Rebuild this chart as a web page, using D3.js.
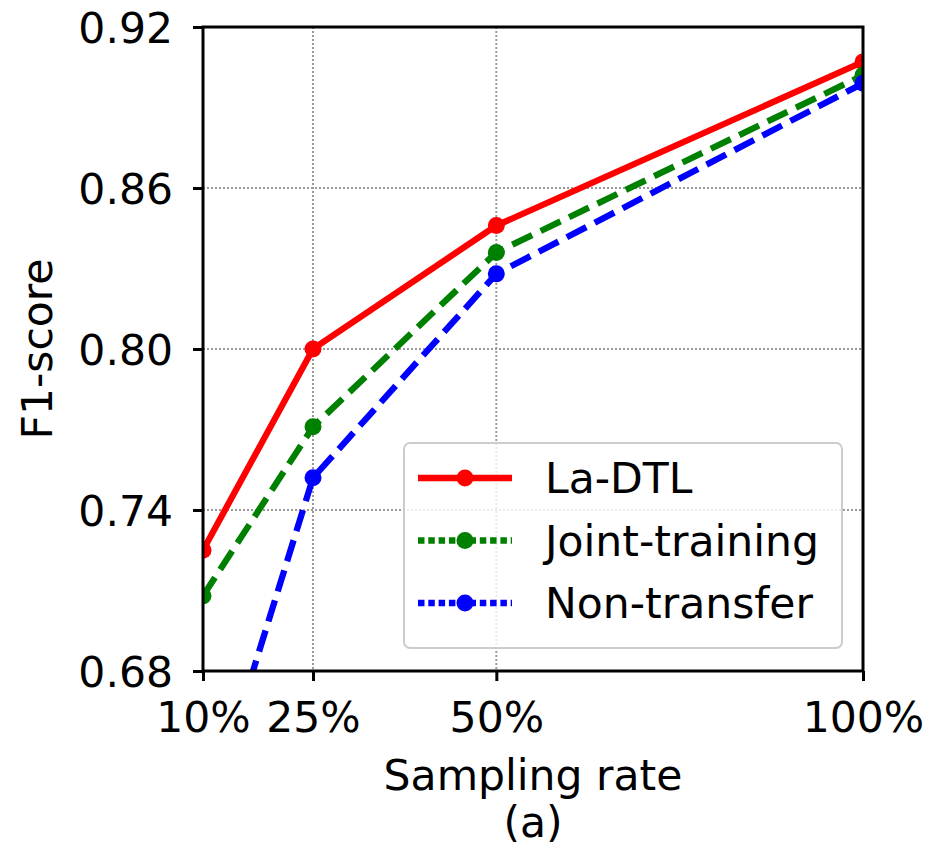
<!DOCTYPE html>
<html>
<head>
<meta charset="utf-8">
<script src="https://cdn.jsdelivr.net/npm/d3@7"></script>
<style>
  body { margin: 0; background: #fff; }
  text { font-family: 'DejaVu Sans', sans-serif; fill: #000; }
</style>
</head>
<body>
<svg id="chart" width="930" height="848"></svg>
<script>
// values
let rates = [10, 25, 50, 100]
let rateLabels = ['10%', '25%', '50%', '100%']
let yTicks = [0.68, 0.74, 0.80, 0.86, 0.92]
let laDTL = [0.725, 0.800, 0.846, 0.907]
let jointTraining = [0.708, 0.771, 0.836, 0.902]
let nonTransfer = [0.620, 0.752, 0.828, 0.899]
let seriesNames = ['La-DTL', 'Joint-training', 'Non-transfer']

let margin = {left: 203, top: 27, right: 930 - 863, bottom: 848 - 671}
let width = 930 - margin.left - margin.right
let height = 848 - margin.top - margin.bottom
let fontSize = 42.5

let series = [
  {name: seriesNames[0], values: laDTL, color: '#ff0000', dash: null, legendDash: null},
  {name: seriesNames[1], values: jointTraining, color: '#008000', dash: '22,9.5', legendDash: '6.5,3.8'},
  {name: seriesNames[2], values: nonTransfer, color: '#0000ff', dash: '22,9.5', legendDash: '6.5,3.8'}
]

let x = d3.scaleLinear().domain([10, 100]).range([0, width])
let y = d3.scaleLinear().domain([0.68, 0.92]).range([height, 0])

let svg = d3.select('#chart')
let g = svg.append('g').attr('transform', 'translate(' + margin.left + ',' + margin.top + ')')

svg.append('defs').append('clipPath').attr('id', 'plotClip')
  .append('rect').attr('width', width).attr('height', height)

// grid
g.append('g').selectAll('line.gx').data(rates).enter().append('line')
  .attr('x1', d => x(d)).attr('x2', d => x(d)).attr('y1', 0).attr('y2', height)
  .attr('stroke', '#999').attr('stroke-width', 2).attr('stroke-dasharray', '2,2')
g.append('g').selectAll('line.gy').data(yTicks).enter().append('line')
  .attr('x1', 0).attr('x2', width).attr('y1', d => y(d)).attr('y2', d => y(d))
  .attr('stroke', '#999').attr('stroke-width', 2).attr('stroke-dasharray', '2,2')

// lines + markers
let line = d3.line().x((d, i) => x(rates[i])).y(d => y(d))
let plot = g.append('g').attr('clip-path', 'url(#plotClip)')
series.forEach(s => {
  plot.append('path').datum(s.values)
    .attr('d', line)
    .attr('fill', 'none')
    .attr('stroke', s.color)
    .attr('stroke-width', 6.3)
    .attr('stroke-dasharray', s.dash)
  plot.selectAll(null).data(s.values).enter().append('circle')
    .attr('cx', (d, i) => x(rates[i])).attr('cy', d => y(d))
    .attr('r', 8.5).attr('fill', s.color)
})

// axes
let xAxis = d3.axisBottom(x).tickValues(rates).tickFormat((d, i) => rateLabels[i])
  .tickSize(10).tickSizeOuter(0).tickPadding(21)
let yAxis = d3.axisLeft(y).tickValues(yTicks).tickFormat(d3.format('.2f'))
  .tickSize(10).tickSizeOuter(0).tickPadding(20)

let gx = g.append('g').attr('transform', 'translate(0,' + height + ')').call(xAxis)
let gy = g.append('g').call(yAxis)
;[gx, gy].forEach(a => {
  a.select('.domain').remove()
  a.selectAll('line').attr('stroke', '#000').attr('stroke-width', 3)
  a.selectAll('text').style('font-size', fontSize + 'px').style('font-family', 'DejaVu Sans')
})
gy.selectAll('text').attr('dy', '0.36em')

// spines
g.append('rect').attr('width', width).attr('height', height)
  .attr('fill', 'none').attr('stroke', '#000').attr('stroke-width', 3)

// axis labels
g.append('text').attr('x', width / 2).attr('y', height + 119)
  .attr('text-anchor', 'middle').style('font-size', fontSize + 'px').text('Sampling rate')
g.append('text').attr('x', width / 2).attr('y', height + 166)
  .attr('text-anchor', 'middle').style('font-size', fontSize + 'px').text('(a)')
g.append('text')
  .attr('transform', 'translate(' + (-151) + ',' + (height / 2) + ')rotate(-90)')
  .attr('text-anchor', 'middle').style('font-size', fontSize + 'px').text('F1-score')

// legend
let lg = g.append('g').attr('transform', 'translate(' + (404 - margin.left) + ',' + (443 - margin.top) + ')')
lg.append('rect').attr('width', 438).attr('height', 205).attr('rx', 6)
  .attr('fill', '#fff').attr('fill-opacity', 0.8)
  .attr('stroke', '#ccc').attr('stroke-width', 2)
series.forEach((s, i) => {
  let yy = 35 + i * 62.5
  lg.append('line').attr('x1', 14).attr('x2', 108).attr('y1', yy).attr('y2', yy)
    .attr('stroke', s.color).attr('stroke-width', 6.3).attr('stroke-dasharray', s.legendDash)
  lg.append('circle').attr('cx', 61).attr('cy', yy).attr('r', 8.5).attr('fill', s.color)
  lg.append('text').attr('x', 141).attr('y', yy).attr('dy', '0.36em')
    .style('font-size', fontSize + 'px').text(s.name)
})
</script>
</body>
</html>
